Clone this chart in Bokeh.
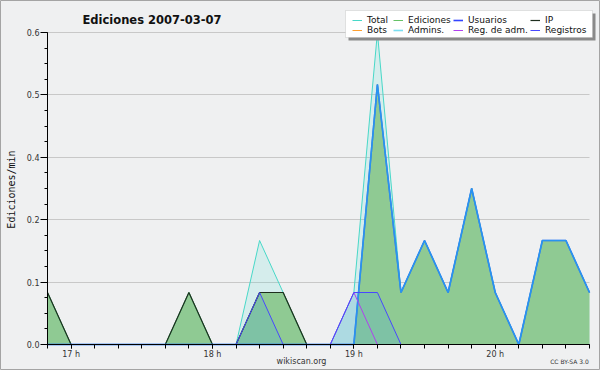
import math
from bokeh.plotting import figure
from bokeh.models import (Range1d, FixedTicker, Legend, LegendItem, Label, BoxAnnotation,
                          CustomJSTickFormatter, ColumnDataSource)
from bokeh.embed import file_html
from bokeh.resources import INLINE

# ---- data (edits per minute, 10-minute samples) ----
times = ["16:50", "17:00", "17:10", "17:20", "17:30", "17:40", "17:50", "18:00",
         "18:10", "18:20", "18:30", "18:40", "18:50", "19:00", "19:10", "19:20",
         "19:30", "19:40", "19:50", "20:00", "20:10", "20:20", "20:30", "20:40"]
total     = [0.1, 0, 0, 0, 0, 0, 0.1, 0, 0, 0.2, 0.1, 0, 0, 0.1, 0.6, 0.1,
             0.2, 0.1, 0.3, 0.1, 0, 0.2, 0.2, 0.1]
ediciones = [0.1, 0, 0, 0, 0, 0, 0.1, 0, 0, 0.1, 0.1, 0, 0, 0, 0.5, 0.1,
             0.2, 0.1, 0.3, 0.1, 0, 0.2, 0.2, 0.1]
usuarios  = [0, 0, 0, 0, 0, 0, 0, 0, 0, 0, 0, 0, 0, 0, 0.5, 0.1,
             0.2, 0.1, 0.3, 0.1, 0, 0.2, 0.2, 0.1]
ip        = [0.1, 0, 0, 0, 0, 0, 0.1, 0, 0, 0.1, 0.1, 0, 0, 0, 0, 0,
             0, 0, 0, 0, 0, 0, 0, 0]
bots      = [0, 0, 0, 0, 0, 0, 0, 0, 0, 0, 0, 0, 0, 0, 0, 0,
             0, 0, 0, 0, 0, 0, 0, 0]
admins    = [0, 0, 0, 0, 0, 0, 0, 0, 0, 0, 0, 0, 0, 0, 0.5, 0.1,
             0.2, 0.1, 0.3, 0.1, 0, 0.2, 0.2, 0.1]
reg_adm   = [0, 0, 0, 0, 0, 0, 0, 0, 0, 0, 0, 0, 0, 0.1, 0, 0,
             0, 0, 0, 0, 0, 0, 0, 0]
registros = [0, 0, 0, 0, 0, 0, 0, 0, 0, 0.1, 0, 0, 0, 0.1, 0.1, 0,
             0, 0, 0, 0, 0, 0, 0, 0]
series_names = ["Total", "Ediciones", "Usuarios", "IP",
                "Bots", "Admins.", "Reg. de adm.", "Registros"]
hour_ticks = [17, 18, 19, 20]
hour_labels = ["17 h", "18 h", "19 h", "20 h"]
y_ticks = [0, 0.12, 0.24, 0.36, 0.48, 0.6]
y_minor = [0, 0.03, 0.06, 0.09, 0.12, 0.15, 0.18, 0.21, 0.24, 0.27, 0.30,
           0.33, 0.36, 0.39, 0.42, 0.45, 0.48, 0.51, 0.54, 0.57, 0.6]
y_max = 0.6
title_text = "Ediciones  2007-03-07"
y_label = "Ediciones/min"
site_text = "wikiscan.org"
license_text = "CC BY-SA 3.0"

hours = [int(t[:2]) + int(t[3:]) / 60 for t in times]
src = ColumnDataSource(dict(x=hours, total=total, ediciones=ediciones,
                            usuarios=usuarios, ip=ip, bots=bots, admins=admins,
                            reg_adm=reg_adm, registros=registros))

# ---- layout (pixels): canvas W x H, plot area L..R, T..B ----
W, H = 600, 370
L, R, T, B = 47, 589, 32, 344
pxh = (R - L) / (hours[-1] - hours[0])
pyu = (B - T) / y_max
xs, xe = hours[0] - L / pxh, hours[-1] + (W - R) / pxh
ys, ye = -(H - B) / pyu, y_max + T / pyu
LEG_L, LEG_T, LEG_R, LEG_B = 345, 10, 592, 37   # legend box, pixels
LEG_COLS = [352, 393, 453, 530]                  # legend column starts, pixels
LEG_ROWS_BOTTOM = 35

BG = "#eff0f1"
FONT = "DejaVu Sans"

def px_x(px):
    return xs + px / pxh

def px_y(py):
    return ys + (H - py) / pyu

p = figure(width=W, height=H, output_backend="svg", toolbar_location=None,
           x_range=Range1d(xs, xe), y_range=Range1d(ys, ye),
           min_border=0, background_fill_color=BG, border_fill_color=BG,
           outline_line_color="#a4a4a4", outline_line_width=1)
p.title.visible = False

# grid lines (only across the plot area)
try:
    p.ygrid.cross_bounds = (hours[0], hours[-1])
    p.ygrid.bounds = (0, y_max)
    p.ygrid.grid_line_color = "#c8c8c8"
except AttributeError:
    p.ygrid.visible = False
    p.segment(x0=hours[0], x1=hours[-1], y0=y_ticks[1:], y1=y_ticks[1:],
              line_color="#c8c8c8", line_width=1)
p.xgrid.visible = False

# fills
p.varea(x="x", y1=0, y2="total", source=src, fill_color="#40e0d0", fill_alpha=0.15)
p.varea(x="x", y1=0, y2="ediciones", source=src, fill_color="#8fca93", fill_alpha=1.0)
p.varea(x="x", y1=0, y2="registros", source=src, fill_color="#59b1cc", fill_alpha=0.32)

# lines
r_total = p.line("x", "total", source=src, line_color="#48d8c8", line_width=1)
r_edic = p.line("x", "ediciones", source=src, line_color="#66c266", line_width=1)
r_ip = p.line("x", "ip", source=src, line_color="#1e2e1e", line_width=1.2)
r_bots = p.line("x", "bots", source=src, line_color="#ffa030", line_width=1)
r_usu = p.line("x", "usuarios", source=src, line_color="#3344ff", line_width=1.6)
r_adm = p.line("x", "admins", source=src, line_color="#22c8e8", line_width=1.6, line_alpha=0.6)
r_regadm = p.line("x", "reg_adm", source=src, line_color="#b040f0", line_width=1)
r_reg = p.line("x", "registros", source=src, line_color="#4848ff", line_width=1)

# axes, pinned to the plot-area edges
p.yaxis.ticker = FixedTicker(ticks=y_ticks, minor_ticks=y_minor)
p.yaxis.formatter = CustomJSTickFormatter(code="return tick.toFixed(1)")
p.yaxis.fixed_location = hours[0]
p.yaxis.bounds = (0, y_max)
p.xaxis.ticker = FixedTicker(ticks=hour_ticks, minor_ticks=hours)
p.xaxis.major_label_overrides = dict(zip(hour_ticks, hour_labels))
p.xaxis.fixed_location = 0
p.xaxis.bounds = (hours[0], hours[-1])
for ax in (p.xaxis[0], p.yaxis[0]):
    ax.axis_line_color = "black"
    ax.major_tick_line_color = "black"
    ax.minor_tick_line_color = "black"
    ax.major_label_text_font = FONT
    ax.major_label_text_font_size = "8px"
    ax.major_label_text_color = "#333333"
    ax.major_tick_in = 0
    ax.minor_tick_in = 0
p.yaxis.major_tick_out = 7
p.yaxis.minor_tick_out = 3
p.yaxis.major_label_standoff = 1
p.xaxis.major_tick_out = 4
p.xaxis.minor_tick_out = 4
p.xaxis.major_label_standoff = 1

# legend frame: drop shadow + white box
p.add_layout(BoxAnnotation(left=px_x(LEG_L + 3), right=px_x(LEG_R + 3),
                           top=px_y(LEG_T + 3), bottom=px_y(LEG_B + 3),
                           fill_color="#8a8a8a", fill_alpha=1, line_color=None,
                           level="annotation"))
p.add_layout(BoxAnnotation(left=px_x(LEG_L), right=px_x(LEG_R),
                           top=px_y(LEG_T), bottom=px_y(LEG_B),
                           fill_color="white", fill_alpha=1, line_color="#aaaaaa",
                           line_width=1, level="annotation"))

# legend: one two-row column per position
renderers = [r_total, r_edic, r_usu, r_ip, r_bots, r_adm, r_regadm, r_reg]
for c, cx in enumerate(LEG_COLS):
    col_items = [LegendItem(label=series_names[c], renderers=[renderers[c]]),
                 LegendItem(label=series_names[c + 4], renderers=[renderers[c + 4]])]
    p.add_layout(Legend(items=col_items, orientation="vertical",
                        label_text_font=FONT, label_text_font_size="9px",
                        label_text_color="#111111", label_height=8,
                        glyph_width=10, glyph_height=8, label_standoff=5,
                        spacing=0, padding=0, margin=0,
                        location=(cx, H - LEG_ROWS_BOTTOM),
                        background_fill_alpha=0, border_line_color=None))

# texts placed by pixel position
def add_text(txt, px, py, size, style="normal", font=FONT, angle=0,
             color="#111111", align="center"):
    p.add_layout(Label(x=xs, y=ys, x_offset=px, y_offset=H - py, text=txt,
                       text_font=font, text_font_size=size, text_font_style=style,
                       text_align=align, text_baseline="middle", angle=angle,
                       text_color=color))

add_text(title_text, 153.5, 19, "11.5px", style="bold")
add_text(y_label, 10.5, 189, "10px", font="DejaVu Sans Mono", angle=math.pi / 2)
add_text(site_text, 301, 361, "8px", color="#333333")
add_text(license_text, 569, 361, "6px", color="#333333")

open("out.html", "w").write(file_html(p, INLINE))
